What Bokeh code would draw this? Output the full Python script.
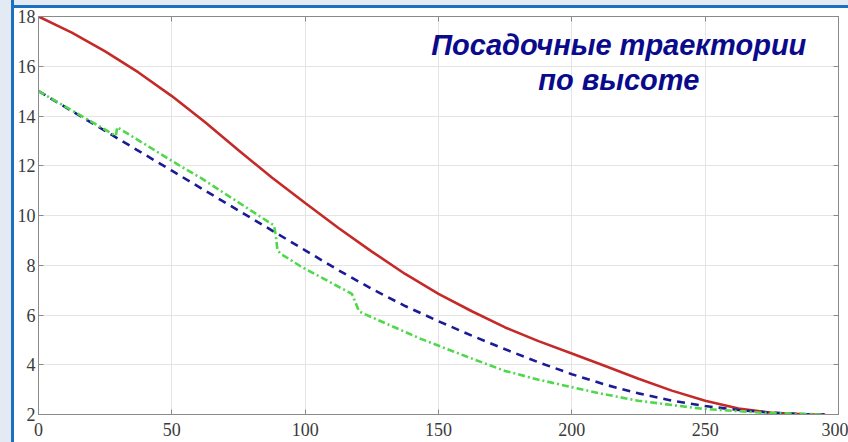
from bokeh.plotting import figure
from bokeh.layouts import column
from bokeh.models import LinearAxis, FixedTicker, Range1d, ColumnDataSource
from bokeh.core.properties import value
from bokeh.embed import file_html
from bokeh.resources import INLINE

# Red solid trajectory
red_x = [0, 12.5, 25, 37.5, 50, 62.5, 75, 87.5, 100, 112.5, 125, 137.5, 150, 162.5, 175,
         187.5, 200, 212.5, 225, 237.5, 250, 262.5, 275, 287.5, 295]
red_y = [18.0, 17.35, 16.6, 15.75, 14.8, 13.75, 12.62, 11.53, 10.5, 9.5, 8.55, 7.65, 6.85,
         6.15, 5.5, 4.95, 4.45, 3.95, 3.44, 2.96, 2.55, 2.24, 2.07, 2.01, 2.0]

# Blue dashed trajectory
blue_x = [0, 25, 50, 75, 100, 112.5, 125, 137.5, 150, 162.5, 175, 187.5, 200, 212.5, 225,
          237.5, 250, 262.5, 275, 287.5, 295]
blue_y = [15.0, 13.4, 11.8, 10.2, 8.6, 7.8, 7.05, 6.36, 5.75, 5.17, 4.62, 4.1, 3.62, 3.2,
          2.85, 2.56, 2.34, 2.18, 2.07, 2.01, 2.0]

# Green dash-dot trajectory
green_x = [0, 29, 29.5, 53, 61, 88.3, 89, 89.6, 91, 98.4, 117.5, 118.5, 120.2, 122, 143.4,
           160, 175, 187.5, 200, 211, 225, 248, 270, 294]
green_y = [15.0, 13.2, 13.55, 12.0, 11.5, 9.6, 9.2, 8.6, 8.45, 7.95, 6.85, 6.6, 6.15, 6.05,
           5.04, 4.35, 3.75, 3.4, 3.1, 2.84, 2.55, 2.24, 2.08, 2.0]

x_ticks = [0, 50, 100, 150, 200, 250, 300]
y_ticks = [2, 4, 6, 8, 10, 12, 14, 16, 18]

title_lines = ["Посадочные траектории", "по высоте"]
title_y = [16.87, 15.43]

p = figure(output_backend="svg", toolbar_location=None,
           frame_width=800, frame_height=398,
           x_range=Range1d(0, 300), y_range=Range1d(2, 18),
           min_border_left=24, min_border_right=10, min_border_top=8, min_border_bottom=28)
p.margin = (8, 0, 0, 14)

p.background_fill_color = "white"
p.border_fill_color = "white"
p.outline_line_color = "#8a8a8a"
p.outline_line_width = 1

for ax in [p.xaxis[0], p.yaxis[0]]:
    ax.axis_line_color = "#8a8a8a"
    ax.major_tick_line_color = "#8a8a8a"
    ax.major_tick_in = 5
    ax.major_tick_out = 0
    ax.minor_tick_line_color = None
    ax.major_label_text_font = "Liberation Serif"
    ax.major_label_text_font_size = "18px"
    ax.major_label_text_color = "#3a3a3a"

p.xaxis[0].ticker = FixedTicker(ticks=x_ticks)
p.yaxis[0].ticker = FixedTicker(ticks=y_ticks)
p.xaxis[0].major_label_standoff = 8
p.yaxis[0].major_label_standoff = 3

for loc, tick in (("right", y_ticks), ("above", x_ticks)):
    a = LinearAxis(ticker=FixedTicker(ticks=tick))
    a.axis_line_color = "#8a8a8a"
    a.major_tick_line_color = "#8a8a8a"
    a.major_tick_in = 5
    a.major_tick_out = 0
    a.minor_tick_line_color = None
    a.major_label_overrides = {t: "" for t in tick}
    a.major_label_standoff = 0
    p.add_layout(a, loc)

p.xgrid.ticker = FixedTicker(ticks=x_ticks)
p.ygrid.ticker = FixedTicker(ticks=y_ticks)
p.grid.grid_line_color = "#e4e4e4"
p.grid.grid_line_width = 1

p.line(red_x, red_y, line_color="#c42a28", line_width=2.6)
p.line(blue_x, blue_y, line_color="#1b1b96", line_width=2.6, line_dash="8 6")
p.line(green_x, green_y, line_color="#4fd84a", line_width=2.6, line_dash="7 3 2 3")

src = ColumnDataSource(dict(x=[217.6, 217.6], y=title_y, t=title_lines))
p.text(x="x", y="y", text="t", source=src, text_align="center", text_baseline="middle",
       text_font=value("Liberation Sans"), text_font_style="bold italic",
       text_font_size="29px", text_color="#0a0a8c")

layout = column(p, styles={
    "background": "linear-gradient(to right, #e4eaf3 0px, #e4eaf3 11px, #1b70c2 11px, #1b70c2 14px, transparent 14px), "
                  "linear-gradient(to bottom, #e4eaf3 0px, #e4eaf3 5px, #1b70c2 5px, #1b70c2 8px, #ffffff 8px)"})

open("out.html", "w").write(file_html(layout, INLINE))
